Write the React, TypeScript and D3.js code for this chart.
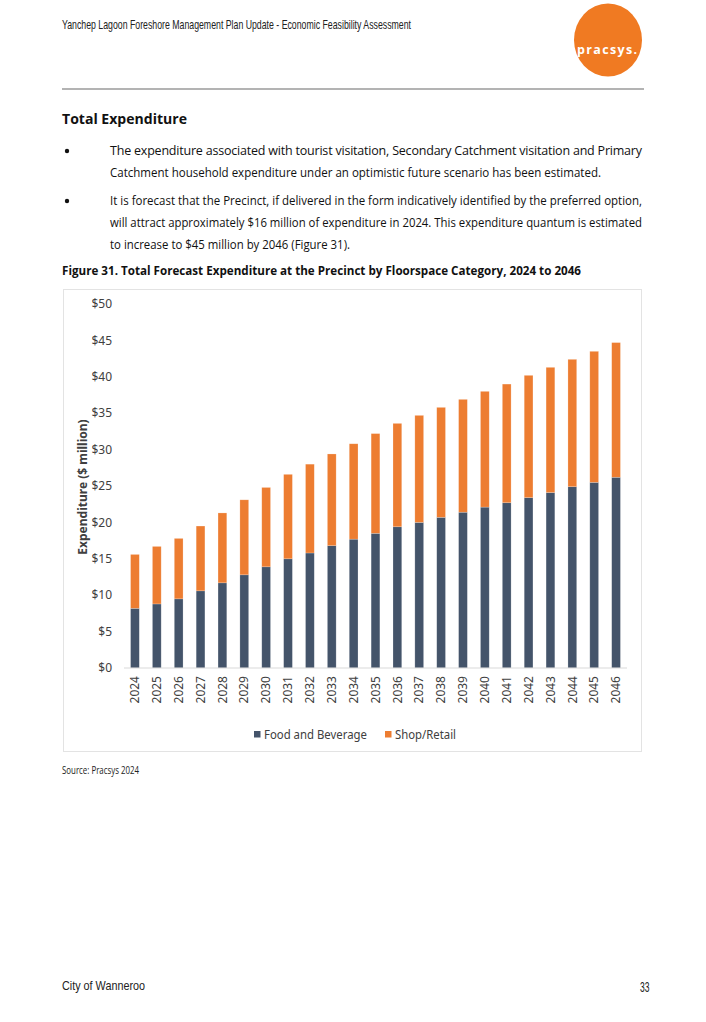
import React from "react";
import * as d3 from "d3";

const years = ["2024","2025","2026","2027","2028","2029","2030","2031","2032","2033","2034","2035","2036","2037","2038","2039","2040","2041","2042","2043","2044","2045","2046"];
const foodBeverage = [8.2, 8.8, 9.5, 10.6, 11.7, 12.8, 13.9, 15.0, 15.8, 16.8, 17.7, 18.5, 19.4, 20.0, 20.7, 21.4, 22.1, 22.7, 23.4, 24.1, 24.9, 25.5, 26.2];
const shopRetail = [7.4, 7.9, 8.3, 8.9, 9.6, 10.3, 10.9, 11.6, 12.2, 12.6, 13.1, 13.7, 14.2, 14.7, 15.1, 15.5, 15.9, 16.3, 16.8, 17.2, 17.5, 18.0, 18.5];
const yTicks = [0, 5, 10, 15, 20, 25, 30, 35, 40, 45, 50];
const seriesNames = ["Food and Beverage", "Shop/Retail"];
const seriesColors = ["#44546A", "#ED7D31"];

const BODY = "'Open Sans', 'Noto Sans', sans-serif";
const CHART = "'Noto Sans', 'Open Sans', sans-serif";
const NARROW = "'Liberation Sans Narrow', 'Liberation Sans', sans-serif";

export default function App() {
  const x = d3.scaleBand<string>().domain(years).range([124, 627]).paddingInner(0.6).paddingOuter(0.3);
  const y = d3.scaleLinear().domain([0, 50]).range([668, 304]);

  const rows = years.map((yr, i) => ({ year: yr, fb: foodBeverage[i], sr: shopRetail[i] }));
  const stack = d3.stack<any>().keys(["fb", "sr"])(rows);

  return (
    <svg width={706} height={1022} style={{ position: "absolute", left: 0, top: 0, background: "#fff" }}>
      <rect x={0} y={0} width={706} height={1022} fill="#fff" />
      {/* Header */}
      <text x={62} y={28.5} fontFamily={NARROW} fontSize={13} fill="#222" textLength={349} lengthAdjust="spacingAndGlyphs">
        Yanchep Lagoon Foreshore Management Plan Update - Economic Feasibility Assessment
      </text>
      <ellipse cx={608} cy={40} rx={34} ry={36.5} fill="#F07A22" />
      <text x={607} y={54} textAnchor="middle" fontFamily="'Open Sans', sans-serif" fontWeight={700} fontSize={12.5} fill="#fff" textLength={60} lengthAdjust="spacing">pracsys.</text>
      <line x1={62} x2={644} y1={89} y2={89} stroke="#9a9a9a" strokeWidth={1.5} />

      {/* Body */}
      <text x={62} y={124} fontFamily={BODY} fontWeight={700} fontSize={15} fill="#111" textLength={125} lengthAdjust="spacingAndGlyphs">Total Expenditure</text>
      <circle cx={67} cy={151} r={2.2} fill="#111" />
      <circle cx={67} cy={201} r={2.2} fill="#111" />
      <g fontFamily={BODY} fontSize={12.5} fill="#111">
        <text x={110} y={155} textLength={532} lengthAdjust="spacing">The expenditure associated with tourist visitation, Secondary Catchment visitation and Primary</text>
        <text x={110} y={177} textLength={491} lengthAdjust="spacingAndGlyphs">Catchment household expenditure under an optimistic future scenario has been estimated.</text>
        <text x={110} y={205} textLength={532} lengthAdjust="spacingAndGlyphs">It is forecast that the Precinct, if delivered in the form indicatively identified by the preferred option,</text>
        <text x={110} y={227} textLength={532} lengthAdjust="spacingAndGlyphs">will attract approximately $16 million of expenditure in 2024. This expenditure quantum is estimated</text>
        <text x={110} y={249} textLength={240} lengthAdjust="spacingAndGlyphs">to increase to $45 million by 2046 (Figure 31).</text>
      </g>
      <text x={62} y={275} fontFamily={BODY} fontWeight={700} fontSize={12.5} fill="#111" textLength={519} lengthAdjust="spacingAndGlyphs">
        Figure 31. Total Forecast Expenditure at the Precinct by Floorspace Category, 2024 to 2046
      </text>

      {/* Chart frame */}
      <rect x={63.5} y={289.5} width={578} height={462} fill="#fff" stroke="#e3e3e3" strokeWidth={1} />

      {/* Y ticks */}
      <g fontFamily={CHART} fontSize={12} fill="#404040">
        {yTicks.map(t => (
          <text key={t} x={112} y={y(t)} dy="0.35em" textAnchor="end">{`$${t}`}</text>
        ))}
      </g>
      <text transform={`translate(82.5,487) rotate(-90)`} textAnchor="middle" dy="0.35em" fontFamily={CHART} fontWeight={700} fontSize={12} fill="#404040">
        Expenditure ($ million)
      </text>

      {/* Bars */}
      {stack.map((layer, si) => (
        <g key={si} fill={seriesColors[si]}>
          {layer.map((d: any, i: number) => (
            <rect key={i} x={x(years[i])} y={y(d[1])} width={x.bandwidth()} height={y(d[0]) - y(d[1])} stroke="#fff" strokeOpacity={0.35} strokeWidth={0.6} />
          ))}
        </g>
      ))}
      <line x1={124} x2={627} y1={668} y2={668} stroke="#d9d9d9" strokeWidth={1} />

      {/* X labels */}
      <g fontFamily={CHART} fontSize={12} fill="#404040">
        {years.map(yr => {
          const cx = (x(yr) as number) + x.bandwidth() / 2;
          return (
            <text key={yr} transform={`translate(${cx},676) rotate(-90)`} textAnchor="end" dy="0.35em">{yr}</text>
          );
        })}
      </g>

      {/* Legend */}
      <g fontFamily={CHART} fontSize={12} fill="#404040">
        <rect x={254} y={731} width={6.5} height={6.5} fill={seriesColors[0]} />
        <text x={264} y={734.5} dy="0.35em" textLength={103} lengthAdjust="spacingAndGlyphs">{seriesNames[0]}</text>
        <rect x={385} y={731} width={6.5} height={6.5} fill={seriesColors[1]} />
        <text x={395} y={734.5} dy="0.35em" textLength={61} lengthAdjust="spacingAndGlyphs">{seriesNames[1]}</text>
      </g>

      <text x={62} y={774} fontFamily={BODY} fontSize={10.5} fill="#222" textLength={77} lengthAdjust="spacingAndGlyphs">Source: Pracsys 2024</text>

      {/* Footer */}
      <text x={62} y={990} fontFamily={NARROW} fontSize={13} fill="#222" textLength={83} lengthAdjust="spacingAndGlyphs">City of Wanneroo</text>
      <text x={640} y={992} fontFamily={NARROW} fontSize={14} fill="#222" textLength={9.5} lengthAdjust="spacingAndGlyphs">33</text>
    </svg>
  );
}
